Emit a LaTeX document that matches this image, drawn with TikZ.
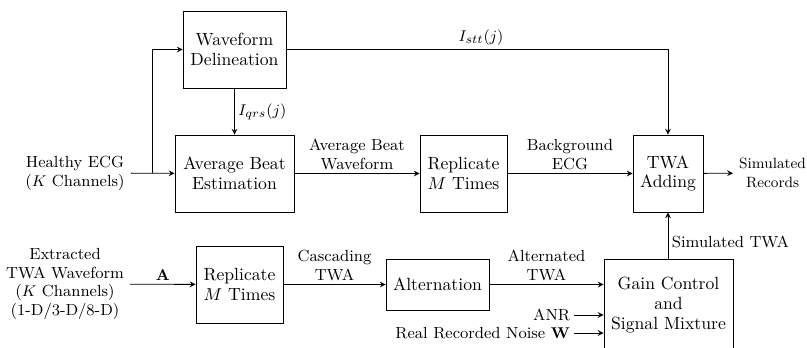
\documentclass[tikz,border=0pt]{standalone}
\usetikzlibrary{arrows}
\begin{document}
\begin{tikzpicture}[x=0.578pt, y=-0.578pt, >=stealth, line width=0.5pt,
			every node/.style = {align=center, font=\fontsize{9.3}{10.8}\selectfont},
			block/.style = {draw, minimum height=44.5pt, font=\fontsize{10.2}{11.4}\selectfont},
			label/.style = {inner sep=2pt}]
			
			\useasboundingbox (0,0) rectangle (807,347);
			
			\node[block, minimum width=59.5pt] (wd) at (234.5,49.5) {Waveform\\Delineation};
			\node[block, minimum width=68.8pt] (abe) at (234.5,173.5) {Average Beat\\Estimation};
			\node[block, minimum width=50.3pt] (rep1) at (463.5,173.5) {Replicate\\$M$ Times};
			\node[block, minimum width=40.5pt] (twa) at (668,173.5) {TWA\\Adding};
			\node[block, minimum width=50.3pt] (rep2) at (239.5,284.5) {Replicate\\$M$ Times};
			\node[block, minimum width=59.5pt, minimum height=29.5pt] (alt) at (437.5,284.5) {Alternation};
			\node[block, minimum width=74.6pt, minimum height=53.2pt] (gain) at (668.5,305) {Gain Control\\and\\Signal Mixture};
			
			\node (healthy) at (75,173) {Healthy ECG\\($K$ Channels)};
			\node[anchor=west, font=\fontsize{8.6}{10.6}\selectfont] (simrec) at (733,173) {Simulated\\Records};
			\node (extr) at (65,284) {Extracted\\TWA Waveform\\($K$ Channels)\\(1-D/3-D/8-D)};
			\node[anchor=east, inner sep=2pt] (anr) at (574,315) {ANR};
			\node[anchor=east, inner sep=2pt] (noise) at (574,333) {Real Recorded Noise $\mathbf{W}$};
			\coordinate (split) at (152,173);
			
			\draw[->] (healthy) -- (abe);
			\draw[->] (split) |- (wd);
			\draw[->] (wd) -- (abe) node[midway, right, label] {$I_{qrs}(j)$};
			\draw[->] (wd) -| (twa) node[pos=0.255, above, label] {$I_{stt}(j)$};
			\draw[->] (abe) -- (rep1) node[midway, above, label] {Average Beat\\Waveform};
			\draw[->] (rep1) -- (twa) node[midway, above, label] {Background\\ECG};
			\draw[->] (twa) -- (simrec);
			\draw[->] (extr) -- (rep2) node[midway, above, label] {$\mathbf{A}$};
			\draw[->] (rep2) -- (alt) node[midway, above, label] {Cascading\\TWA};
			\draw[->] (alt) -- (alt -| gain.west) node[midway, above, label] {Alternated\\TWA};
			\draw[->] (anr) -- (anr -| gain.west);
			\draw[->] (noise) -- (noise -| gain.west);
			\draw[->] (gain.north -| twa) -- (twa) node[pos=0.35, right, label] {Simulated TWA};
\end{tikzpicture}
\end{document}
